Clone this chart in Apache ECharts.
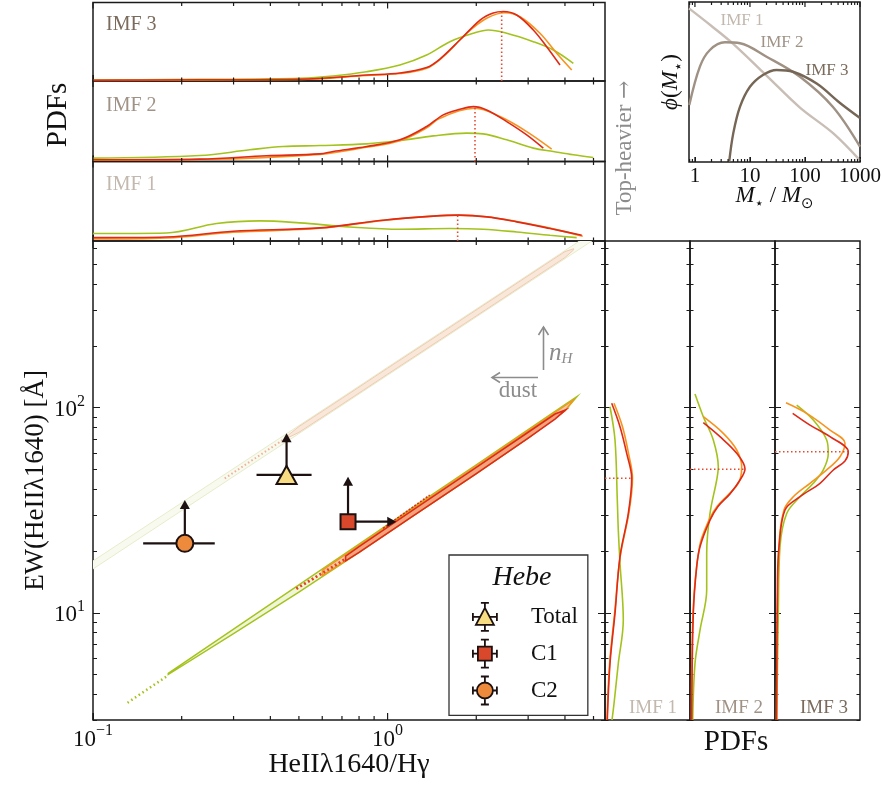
<!DOCTYPE html>
<html><head><meta charset="utf-8">
<script src="https://cdn.jsdelivr.net/npm/echarts@6/dist/echarts.min.js"></script>
<style>html,body{margin:0;padding:0;background:#fff}#c{width:881px;height:787px}</style>
</head><body><div id="c"></div>
<script>
// ================= DATA =================
// Hebe measurements (HeII1640/Hgamma ratio, EW in Angstrom)
const pointNames = ['Total', 'C1', 'C2'];
const pointRatio = [0.454, 0.734, 0.205];
const pointEW = [47, 27.8, 21.8];
const ratioErrLow = [0.359, null, 0.148];
const ratioErrHigh = [0.552, null, 0.259];
const ewLimitArrowTo = [75, 46, 35.5];
const ratioLimitArrowTo = [null, 1.07, null];

// upper (faint) model band
const farBandX    = [0.08, 0.1, 0.2, 0.4, 0.7, 1.0, 1.5, 2.5, 4.0, 6.0];
const farBandLow  = [13.2, 16.35, 31.5, 60.6, 102.7, 144, 211, 342, 533, 782];
const farBandHigh = [14.4, 17.9, 34.4, 66.3, 112.3, 157.6, 231, 374, 584, 856];
const farCoreX    = [0.46, 0.5, 0.7, 1.0, 1.5, 2.5, 4.0, 4.28];
const farCoreLow  = [71.5, 75.8, 103.9, 145.7, 213.5, 346, 540, 588];
const farCoreHigh = [73.5, 80.9, 111, 155.8, 228.3, 370, 577, 596];
const farDotX = [0.28, 0.34, 0.40, 0.46];
const farDotY = [45.2, 54.4, 63.4, 72.5];

// lower (prominent) model band
const nearBandX    = [0.18, 0.3, 0.5, 0.8, 1.2, 2.0, 3.0, 4.0, 4.4];
const nearBandHigh = [5.06, 8.32, 13.68, 21.6, 32.1, 52.7, 78.2, 103.5, 113.5];
const nearBandLow  = [5.0, 7.92, 12.6, 19.7, 29.2, 47.7, 71.1, 96.7, 113.5];
const orangeBandX    = [0.6, 0.8, 1.2, 2.0, 3.0, 4.0, 4.27];
const orangeBandHigh = [16.1, 21.35, 31.7, 52.1, 77.3, 102.3, 109];
const orangeBandLow  = [15.2, 19.7, 29.2, 47.7, 71.1, 96.7, 109];
const redBandX    = [0.72, 0.8, 1.2, 2.0, 3.0, 3.7, 4.02];
const redBandHigh = [18.9, 21.0, 31.2, 51.2, 75.9, 93.1, 97.5];
const redBandLow  = [17.9, 19.7, 29.2, 47.7, 71.1, 88, 97.5];
const greenDotX = [0.131, 0.145, 0.16, 0.178];
const greenDotY = [3.64, 4.02, 4.42, 4.9];
const redDotX = [0.49, 0.56, 0.64, 0.72];
const redDotY = [13.1, 14.7, 16.5, 18.3];
const redZigX = [0.965, 1.39];
const redZigY = [25.8, 37.5];

// top PDFs (x = HeII/Hgamma, value = relative density)
const topIMF3GreenX = [0.1,0.144,0.23,0.368,0.503,0.652,0.848,1.101,1.357,1.627,1.954,2.197,2.537,3.123,3.652,4.271];
const topIMF3GreenV = [0.013,0.016,0.021,0.026,0.033,0.064,0.118,0.204,0.331,0.501,0.608,0.650,0.608,0.501,0.395,0.225];
const topIMF3OrangeX = [0.1,0.23,0.503,0.848,1.101,1.357,1.545,1.855,2.169,2.503,2.815,3.291,3.75,4.217];
const topIMF3OrangeV = [0.008,0.014,0.02,0.07,0.095,0.162,0.310,0.608,0.799,0.870,0.819,0.608,0.353,0.140];
const topIMF3RedX = [0.1,0.23,0.503,0.848,1.101,1.357,1.505,1.76,2.06,2.284,2.47,2.742,3.123,3.467,3.848];
const topIMF3RedV = [0.009,0.015,0.022,0.076,0.102,0.172,0.280,0.522,0.777,0.866,0.885,0.841,0.650,0.437,0.204];
const topIMF3Peak = [2.439, 0.885];

const topIMF2GreenX = [0.1,0.2303,0.3405,0.4418,0.5889,0.8485,1.101,1.429,1.855,2.108,2.537,3.123,3.652,4.271,4.994];
const topIMF2GreenV = [0.042,0.074,0.145,0.186,0.198,0.219,0.260,0.318,0.352,0.343,0.269,0.166,0.124,0.083,0.050];
const topIMF2OrangeX = [0.1,0.2303,0.5889,0.8485,1.101,1.357,1.505,1.98,2.407,2.966,3.606];
const topIMF2OrangeV = [0.015,0.024,0.089,0.176,0.257,0.418,0.538,0.662,0.558,0.372,0.154];
const topIMF2RedX = [0.1,0.2303,0.388,0.5889,0.6533,0.8485,1.101,1.357,1.545,1.76,1.954,2.169,2.537,2.966,3.377];
const topIMF2RedV = [0.021,0.030,0.071,0.095,0.124,0.186,0.269,0.434,0.579,0.649,0.682,0.641,0.496,0.331,0.166];
const topIMF2Peak = [1.98, 0.67];

const topIMF1GreenX = [0.1,0.1775,0.2625,0.3683,0.503,0.7447,1.101,1.627,2.108,2.743,3.558,4.385];
const topIMF1GreenV = [0.094,0.101,0.220,0.253,0.228,0.177,0.148,0.157,0.148,0.114,0.072,0.043];
const topIMF1OrangeX = [0.1,0.1775,0.2988,0.5889,0.9661,1.429,1.738,2.169,2.743,3.558,4.597];
const topIMF1OrangeV = [0.025,0.038,0.110,0.160,0.260,0.313,0.325,0.306,0.245,0.162,0.059];
const topIMF1RedX = [0.1,0.1775,0.2988,0.5889,0.9661,1.429,1.738,2.169,2.743,3.558,4.56];
const topIMF1RedV = [0.043,0.051,0.123,0.165,0.262,0.313,0.325,0.304,0.241,0.157,0.072];
const topIMF1Peak = [1.729, 0.325];

// right PDFs (EW, value = relative density)
const rightIMF1GreenEW = [101.1,69.6,35.5,25.3,17.5,9.21,5.66,3.6,3.0];
const rightIMF1GreenV  = [5,10,12.3,13.3,15,18.3,13.3,9,7];
const rightIMF1OrangeEW = [105.1,80.8,59.9,45.3,30.5,18.8,9.93,5.66,3.0];
const rightIMF1OrangeV  = [9,17.5,23.5,27.5,23.8,15.2,9.6,4.6,2];
const rightIMF1RedEW = [105.1,80.8,59.9,45.3,30.5,18.8,9.93,5.66,3.0];
const rightIMF1RedV  = [6.7,15,21.7,26.7,23.3,15,10,5,2.3];
const rightIMF1Peak = [45.3, 26.7];

const rightIMF2GreenEW = [116.6,90.4,69.6,51.5,44.4,30.5,19.5,12.9,8.23,5.66,3.0];
const rightIMF2GreenV  = [5,13.3,23.3,28.3,26.7,20,16.7,16.7,10,5,2.7];
const rightIMF2OrangeEW = [90.4,75,62.2,51.5,42.8,33,28.3,21,9.93,3.0];
const rightIMF2OrangeV  = [13.3,33.3,46.7,51.7,48.3,27,19,9.5,3,1.5];
const rightIMF2RedEW = [84.5,72.2,59.9,50.2,44.4,38,33,28.3,21,16.8,9.93,3.0];
const rightIMF2RedV  = [13.3,30,46.7,55,50,40,28,20,10,6.7,3.3,1.7];
const rightIMF2Peak = [50.1, 55];

const rightIMF3GreenEW = [103,87.1,69.6,59.9,49.7,42.8,36.8,30.5,21,9.93,3.0];
const rightIMF3GreenV  = [21.7,38.3,51.7,53.3,48.3,38.3,25,11.7,5,3.3,1.7];
const rightIMF3OrangeEW = [105.8,93.9,77.8,67,57.7,49.7,42.8,36.8,31.7,21,3.0];
const rightIMF3OrangeV  = [11,31.7,55,70,65,51.7,35,18.3,9,4,1.5];
const rightIMF3RedEW = [93.9,82.3,72.2,61,55,49.7,42.8,36.8,31.7,21,14.4,3.0];
const rightIMF3RedV  = [17.7,35,55,73.3,70,58.3,45,25,10,4,2.5,1.5];
const rightIMF3Peak = [61, 73.3];

// inset IMFs
const imf1Mass = [0.78, 2, 4.9, 20, 81, 324, 1000];
const imf1Phi  = [96, 85, 74, 54, 34, 18, 1];
const imf2Mass = [0.79, 1.23, 1.87, 3.5, 6.6, 20, 81, 323, 1000];
const imf2Phi  = [35.6, 59.6, 70, 74.8, 74.2, 65.8, 53.3, 34.4, 9.6];
const imf3Mass = [4.2, 4.97, 6.6, 10, 17.2, 30.6, 60.5, 163, 433, 1000];
const imf3Phi  = [0.2, 17.9, 34.6, 47, 54.4, 57.5, 56.4, 49, 36.9, 27.5];
const massTickLabels = ['1', '10', '100', '1000'];

// ================= STYLE =================
const FONT = "'Liberation Serif','DejaVu Serif','Times New Roman',serif";
const INK = '#1c1010';
const AX = '#1a1a1a';
const C_RED = '#de2a17', C_ORANGE = '#f7931e', C_GREEN = '#a3c31c';
const IMF_TXT = ['#c2b8ae', '#a09386', '#7b6b5d'];
const IMF_LINE = ['#c8beb5', '#9f9184', '#766656'];
const pointColors = ['#f7dc82', '#d9482a', '#ee8a3b'];
const pointSymbols = ['triangle', 'rect', 'circle'];
const pointSizes = [[20, 18], 15, 17];

const RATIO_MIN = 0.1, RATIO_MAX = 5.47, EW_MIN = 3.0, EW_MAX = 650;
const MASS_MIN = 0.78, MASS_MAX = 1000;
const L = Math.log10;

function decadeTicks(lo, hi) {
  const major = [], minor = [];
  for (let e = Math.floor(L(lo)); e <= Math.ceil(L(hi)); e++) {
    for (let k = 1; k <= 9; k++) {
      const v = k * Math.pow(10, e);
      if (v < lo * 0.9999 || v > hi * 1.0001) continue;
      (k === 1 ? major : minor).push(L(v));
    }
  }
  return {major, minor};
}

const rich = {
  b: {fontFamily: FONT, fontSize: 23, lineHeight: 28, color: '#111', verticalAlign: 'bottom'},
  s: {fontFamily: FONT, fontSize: 16, lineHeight: 16, color: '#111', verticalAlign: 'top'}
};
function powLabel(v) {
  const n = Math.round(v);
  return '{b|10}{s|' + (n < 0 ? '\u2212' + (-n) : String(n)) + '}';
}

const gridBoxes = [
  {left: 93, top: 241, width: 512, height: 479},
  {left: 93, top: 2.5, width: 512, height: 78.5},
  {left: 93, top: 81, width: 512, height: 80.5},
  {left: 93, top: 161.5, width: 512, height: 79.5},
  {left: 605, top: 241, width: 85, height: 479},
  {left: 690, top: 241, width: 85, height: 479},
  {left: 775, top: 241, width: 85, height: 479},
  {left: 689, top: 2, width: 171, height: 160}
];
const grids = gridBoxes.map(g => Object.assign({show: true, borderColor: AX, borderWidth: 1.5, backgroundColor: 'transparent', containLabel: false, outerBoundsMode: 'none'}, g));

const xAxis = [], yAxis = [];
function logYSides(grid, lo, hi, majLen, minLen, firstExtra) {
  const t = decadeTicks(lo, hi);
  let idx = -1;
  ['left', 'right'].forEach((side, si) => {
    [[t.major, majLen], [t.minor, minLen]].forEach(([vals, len], ki) => {
      const ax = {
        type: 'value', gridIndex: grid, position: side, min: L(lo), max: L(hi),
        axisLine: {show: false, onZero: false}, splitLine: {show: false},
        axisTick: {show: true, inside: true, length: len, customValues: vals, lineStyle: {color: AX, width: 1}},
        axisLabel: {show: false}
      };
      if (si === 0 && ki === 0) {
        if (firstExtra) Object.assign(ax, firstExtra(vals));
        yAxis.push(ax); idx = yAxis.length - 1;
      } else yAxis.push(ax);
    });
  });
  return idx;
}
const xTickSets = [];
function logX(grid, lo, hi, majLen, minLen, extra) {
  const t = decadeTicks(lo, hi);
  xAxis.push(Object.assign({
    type: 'value', gridIndex: grid, position: 'bottom', min: L(lo), max: L(hi),
    axisLine: {show: false, onZero: false}, splitLine: {show: false},
    axisTick: {show: true, inside: true, length: majLen, customValues: t.major, lineStyle: {color: AX, width: 1}},
    axisLabel: {show: false}
  }, extra || {}));
  const idx = xAxis.length - 1;
  xTickSets.push({xi: idx, grid: grid, lo: L(lo), hi: L(hi),
    ticks: t.major.map(v => [v, majLen]).concat(t.minor.map(v => [v, minLen]))});
  return idx;
}
function plainAxis(list, grid, lo, hi, extra) {
  list.push(Object.assign({type: 'value', gridIndex: grid, min: lo, max: hi, show: false,
    axisLine: {show: false, onZero: false}, splitLine: {show: false}}, extra || {}));
  return list.length - 1;
}

const X0 = logX(0, RATIO_MIN, RATIO_MAX, 7, 4, {
  axisLabel: {show: true, customValues: decadeTicks(RATIO_MIN, RATIO_MAX).major, formatter: powLabel, margin: 3, rich: rich},
  name: 'HeII\u03bb1640/H\u03b3', nameLocation: 'middle', nameGap: 31, nameMoveOverlap: false,
  nameTextStyle: {fontFamily: FONT, fontSize: 28, color: '#111'}
});
const Y0 = logYSides(0, EW_MIN, EW_MAX, 7, 4, vals => ({
  axisLabel: {show: true, customValues: vals, formatter: powLabel, margin: 8, rich: rich},
  name: 'EW(HeII\u03bb1640) [\u00c5]', nameLocation: 'middle', nameGap: 44, nameRotate: 90, nameMoveOverlap: false,
  nameTextStyle: {fontFamily: FONT, fontSize: 27, color: '#111'}
}));
const topX = [], topY = [];
for (let g = 1; g <= 3; g++) {
  topX.push(logX(g, RATIO_MIN, RATIO_MAX, 6, 3.5));
  topY.push(plainAxis(yAxis, g, 0, 1));
}
const rightX = [], rightY = [];
for (let g = 4; g <= 6; g++) {
  rightX.push(plainAxis(xAxis, g, 0, 85));
  rightY.push(logYSides(g, EW_MIN, EW_MAX, 6, 3.5, null));
}
const insetRich = {
  i: {fontFamily: FONT, fontStyle: 'italic', fontSize: 23, lineHeight: 28, color: '#111', verticalAlign: 'top'},
  n: {fontFamily: FONT, fontSize: 23, lineHeight: 28, color: '#111', verticalAlign: 'top'},
  s: {fontFamily: 'DejaVu Sans', fontSize: 15, lineHeight: 15, color: '#111', verticalAlign: 'bottom'}
};
const XI = logX(7, MASS_MIN, MASS_MAX, 5, 3, {
  axisLabel: {show: true, customValues: decadeTicks(MASS_MIN, MASS_MAX).major, margin: 4, fontFamily: FONT, fontSize: 21, color: '#111',
    formatter: v => massTickLabels[Math.round(v)]},
  name: '{i|M}{s|\u22c6}{n| / }{i|M}{s|\u2299}', nameLocation: 'middle', nameGap: 22, nameMoveOverlap: false,
  nameTextStyle: {rich: insetRich}
});
const YI = plainAxis(yAxis, 7, 0, 100, {
  show: true, axisTick: {show: false}, axisLabel: {show: false},
  name: '{i|\u03d5}{n|(}{i|M}{s|\u22c6}{n|)}', nameLocation: 'middle', nameGap: 2, nameRotate: 90, nameMoveOverlap: false,
  nameTextStyle: {rich: insetRich}
});

// ================= SERIES =================
const series = [];
function polySeries(xs, lo, hi, fill, stroke, lw, z) {
  return {
    type: 'custom', xAxisIndex: X0, yAxisIndex: Y0, silent: true, z: z, clip: true,
    data: [[L(xs[0]), L(lo[0])]],
    renderItem: function (params, api) {
      const pts = [];
      for (let i = 0; i < xs.length; i++) pts.push(api.coord([L(xs[i]), L(hi[i])]));
      for (let i = xs.length - 1; i >= 0; i--) pts.push(api.coord([L(xs[i]), L(lo[i])]));
      return {type: 'polygon', shape: {points: pts}, style: {fill: fill, stroke: stroke, lineWidth: lw}};
    }
  };
}
function logLine(xs, ys, color, width, type, z) {
  return {type: 'line', xAxisIndex: X0, yAxisIndex: Y0, silent: true, showSymbol: false, z: z, clip: true,
    data: xs.map((x, i) => [L(x), L(ys[i])]), lineStyle: {color: color, width: width, type: type}};
}
series.push(polySeries(farBandX, farBandLow, farBandHigh, '#f8faef', '#e6edc9', 1, 1));
series.push(polySeries(farCoreX, farCoreLow, farCoreHigh, '#f9e7da', '#f1cbb3', 1, 1));
series.push(logLine(farDotX, farDotY, '#efb095', 2, [1.5, 2.5], 1));
series.push(polySeries(nearBandX, nearBandLow, nearBandHigh, '#f0f5d9', C_GREEN, 1.4, 2));
series.push(polySeries(orangeBandX, orangeBandLow, orangeBandHigh, '#f7c9a6', C_ORANGE, 1.3, 2));
series.push(polySeries(redBandX, redBandLow, redBandHigh, '#f0a47b', C_RED, 1.6, 2));
series.push(logLine(greenDotX, greenDotY, C_GREEN, 2.5, [1.5, 3], 2));
series.push(logLine(redDotX, redDotY, '#e6401d', 2.8, [2, 2.5], 2));
series.push(logLine(redZigX, redZigY, C_RED, 1.6, [2, 1.5], 3));

series.push({
  type: 'custom', xAxisIndex: X0, yAxisIndex: Y0, silent: true, z: 8,
  data: pointNames.map((n, i) => [L(pointRatio[i]), L(pointEW[i])]),
  renderItem: function (params, api) {
    const i = params.dataIndex;
    const c = api.coord([api.value(0), api.value(1)]);
    const st = {stroke: INK, lineWidth: 2.2};
    const kids = [];
    if (ratioErrLow[i] != null) {
      const a = api.coord([L(ratioErrLow[i]), api.value(1)]);
      const b = api.coord([L(ratioErrHigh[i]), api.value(1)]);
      kids.push({type: 'line', shape: {x1: a[0], y1: a[1], x2: b[0], y2: b[1]}, style: st});
    }
    if (ewLimitArrowTo[i] != null) {
      const t = api.coord([api.value(0), L(ewLimitArrowTo[i])]);
      kids.push({type: 'line', shape: {x1: c[0], y1: c[1], x2: t[0], y2: t[1] + 6}, style: st});
      kids.push({type: 'polygon', shape: {points: [[t[0], t[1]], [t[0] - 5, t[1] + 9], [t[0] + 5, t[1] + 9]]}, style: {fill: INK}});
    }
    if (ratioLimitArrowTo[i] != null) {
      const t = api.coord([L(ratioLimitArrowTo[i]), api.value(1)]);
      kids.push({type: 'line', shape: {x1: c[0], y1: c[1], x2: t[0] - 6, y2: t[1]}, style: st});
      kids.push({type: 'polygon', shape: {points: [[t[0], t[1]], [t[0] - 9, t[1] - 5], [t[0] - 9, t[1] + 5]]}, style: {fill: INK}});
    }
    return {type: 'group', children: kids};
  }
});
pointNames.forEach((n, i) => {
  series.push({
    type: 'scatter', name: n, xAxisIndex: X0, yAxisIndex: Y0, z: 10,
    symbol: pointSymbols[i], symbolSize: pointSizes[i],
    itemStyle: {color: pointColors[i], borderColor: INK, borderWidth: 2, opacity: 1},
    data: [[L(pointRatio[i]), L(pointEW[i])]]
  });
});

const topSets = [
  [topIMF3GreenX, topIMF3GreenV, topIMF3OrangeX, topIMF3OrangeV, topIMF3RedX, topIMF3RedV, topIMF3Peak],
  [topIMF2GreenX, topIMF2GreenV, topIMF2OrangeX, topIMF2OrangeV, topIMF2RedX, topIMF2RedV, topIMF2Peak],
  [topIMF1GreenX, topIMF1GreenV, topIMF1OrangeX, topIMF1OrangeV, topIMF1RedX, topIMF1RedV, topIMF1Peak]
];
topSets.forEach((s, k) => {
  const cols = [C_GREEN, C_ORANGE, C_RED];
  for (let j = 0; j < 3; j++) {
    series.push({type: 'line', xAxisIndex: topX[k], yAxisIndex: topY[k], silent: true, showSymbol: false, smooth: 0.35,
      data: s[2 * j].map((x, i) => [L(x), s[2 * j + 1][i]]), lineStyle: {color: cols[j], width: 1.6}});
  }
  series.push({type: 'line', xAxisIndex: topX[k], yAxisIndex: topY[k], silent: true, showSymbol: false,
    data: [[L(s[6][0]), 0], [L(s[6][0]), s[6][1]]], lineStyle: {color: '#e54a2e', width: 1.6, type: [1.5, 2.5]}});
});

const rightSets = [
  [rightIMF1GreenV, rightIMF1GreenEW, rightIMF1OrangeV, rightIMF1OrangeEW, rightIMF1RedV, rightIMF1RedEW, rightIMF1Peak],
  [rightIMF2GreenV, rightIMF2GreenEW, rightIMF2OrangeV, rightIMF2OrangeEW, rightIMF2RedV, rightIMF2RedEW, rightIMF2Peak],
  [rightIMF3GreenV, rightIMF3GreenEW, rightIMF3OrangeV, rightIMF3OrangeEW, rightIMF3RedV, rightIMF3RedEW, rightIMF3Peak]
];
rightSets.forEach((s, k) => {
  const cols = [C_GREEN, C_ORANGE, C_RED];
  for (let j = 0; j < 3; j++) {
    series.push({type: 'line', xAxisIndex: rightX[k], yAxisIndex: rightY[k], silent: true, showSymbol: false, smooth: 0.35,
      data: s[2 * j].map((v, i) => [v, L(s[2 * j + 1][i])]), lineStyle: {color: cols[j], width: 1.6}});
  }
  series.push({type: 'line', xAxisIndex: rightX[k], yAxisIndex: rightY[k], silent: true, showSymbol: false,
    data: [[0, L(s[6][0])], [s[6][1], L(s[6][0])]], lineStyle: {color: '#e54a2e', width: 1.6, type: [1.5, 2.5]}});
});

[[imf1Mass, imf1Phi], [imf2Mass, imf2Phi], [imf3Mass, imf3Phi]].forEach((s, k) => {
  series.push({type: 'line', xAxisIndex: XI, yAxisIndex: YI, silent: true, showSymbol: false, smooth: 0.35, clip: true,
    data: s[0].map((m, i) => [L(m), s[1][i]]), lineStyle: {color: IMF_LINE[k], width: 2.4}});
});

// ================= LEGEND ICONS =================
const arms = 'M12 0 V6 M12 22 V28 M0 14 H8 M16 14 H24 M8 0 H16 M8 28 H16 M0 10 V18 M24 10 V18 ';
const legendIcons = [
  'path://' + arms + 'M12 5 L21 22 L3 22 Z',
  'path://M12 0 V7 M12 21 V28 M0 14 H5 M19 14 H24 M8 0 H16 M8 28 H16 M0 10 V18 M24 10 V18 M5 7 H19 V21 H5 Z',
  'path://M12 0 V6 M12 22 V28 M0 14 H4 M20 14 H24 M8 0 H16 M8 28 H16 M0 10 V18 M24 10 V18 M4 14 A8 8 0 1 0 20 14 A8 8 0 1 0 4 14 Z'
];

function txt(text, x, y, size, color, extra) {
  return Object.assign({type: 'text', x: x, y: y, silent: true, z: 50,
    style: Object.assign({text: text, fill: color, fontFamily: FONT, fontSize: size, textAlign: 'center', textVerticalAlign: 'middle'}, (extra && extra.style) || {})},
    extra && extra.rotation ? {rotation: extra.rotation} : {});
}
const GRAY = '#8c8c8c';
const graphic = [
  txt('PDFs', 58, 115, 29, '#111', {rotation: Math.PI / 2}),
  txt('PDFs', 736, 742, 29, '#111'),
  {type: 'text', x: 625, y: 148, rotation: Math.PI / 2, silent: true, z: 50,
    style: {text: '{t|Top-heavier }{a|\u2192}', textAlign: 'center', textVerticalAlign: 'middle',
      rich: {t: {fontFamily: FONT, fontSize: 23, fill: GRAY, lineHeight: 26}, a: {fontFamily: 'DejaVu Serif', fontSize: 22, fill: GRAY, lineHeight: 26}}}},
  txt('IMF 3', 106, 25, 20, IMF_TXT[2], {style: {textAlign: 'left'}}),
  txt('IMF 2', 106, 106, 20, IMF_TXT[1], {style: {textAlign: 'left'}}),
  txt('IMF 1', 106, 185, 20, IMF_TXT[0], {style: {textAlign: 'left'}}),
  txt('IMF 1', 653, 708, 19, IMF_TXT[0]),
  txt('IMF 2', 739, 708, 19, IMF_TXT[1]),
  txt('IMF 3', 824, 708, 19, IMF_TXT[2]),
  txt('IMF 1', 742, 21, 17, IMF_TXT[0]),
  txt('IMF 2', 782, 43, 17, IMF_TXT[1]),
  txt('IMF 3', 827, 71, 17, IMF_TXT[2]),
  txt('Hebe', 522, 578, 28, '#111', {style: {fontStyle: 'italic'}}),
  txt('dust', 518, 391, 23, GRAY),
  {type: 'text', x: 549, y: 354, z: 50, silent: true, style: {text: '{i|n}{s|H}', textAlign: 'left', textVerticalAlign: 'middle',
    rich: {i: {fontFamily: FONT, fontStyle: 'italic', fontSize: 25, lineHeight: 26, fill: GRAY, verticalAlign: 'top'},
           s: {fontFamily: FONT, fontStyle: 'italic', fontSize: 15, lineHeight: 14, fill: GRAY, verticalAlign: 'bottom'}}}},
  {type: 'line', z: 50, silent: true, shape: {x1: 543.5, y1: 370, x2: 543.5, y2: 327}, style: {stroke: GRAY, lineWidth: 1.6}},
  {type: 'polyline', z: 50, silent: true, shape: {points: [[538.5, 335], [543.5, 327], [548.5, 335]]}, style: {stroke: GRAY, lineWidth: 1.6, fill: null}},
  {type: 'line', z: 50, silent: true, shape: {x1: 538, y1: 377.5, x2: 492, y2: 377.5}, style: {stroke: GRAY, lineWidth: 1.6}},
  {type: 'polyline', z: 50, silent: true, shape: {points: [[500, 372.5], [492, 377.5], [500, 382.5]]}, style: {stroke: GRAY, lineWidth: 1.6, fill: null}}
];

// inward x ticks on top & bottom edges of each log-x panel (same linear-in-log mapping as the panel's x axis)
xTickSets.forEach(ts => {
  const box = gridBoxes[ts.grid];
  const yb = box.top + box.height, yt = box.top;
  ts.ticks.forEach(([v, len]) => {
    const x = box.left + (v - ts.lo) / (ts.hi - ts.lo) * box.width;
    graphic.push({type: 'rect', silent: true, z: 100, shape: {x: x - 0.6, y: yb - len, width: 1.2, height: len}, style: {fill: AX}});
    graphic.push({type: 'rect', silent: true, z: 100, shape: {x: x - 0.6, y: yt, width: 1.2, height: len}, style: {fill: AX}});
  });
});

const option = {
  backgroundColor: '#fff',
  animation: false,
  grid: grids,
  xAxis: xAxis,
  yAxis: yAxis,
  legend: {
    left: 449, top: 555, orient: 'vertical', padding: [47, 10, 10, 23], itemGap: 7,
    itemWidth: 24, itemHeight: 28, borderColor: '#333', borderWidth: 1.3, backgroundColor: '#fff',
    selectedMode: false, z: 20,
    textStyle: {fontFamily: FONT, fontSize: 23, color: '#111', padding: [0, 0, 0, 29]},
    data: pointNames.map((n, i) => ({name: n, icon: legendIcons[i],
      itemStyle: {color: pointColors[i], borderColor: INK, borderWidth: 1.8}}))
  },
  graphic: graphic,
  series: series
};
const chart = echarts.init(document.getElementById('c'), null, {renderer: 'canvas'});
chart.setOption(option);
</script></body></html>
